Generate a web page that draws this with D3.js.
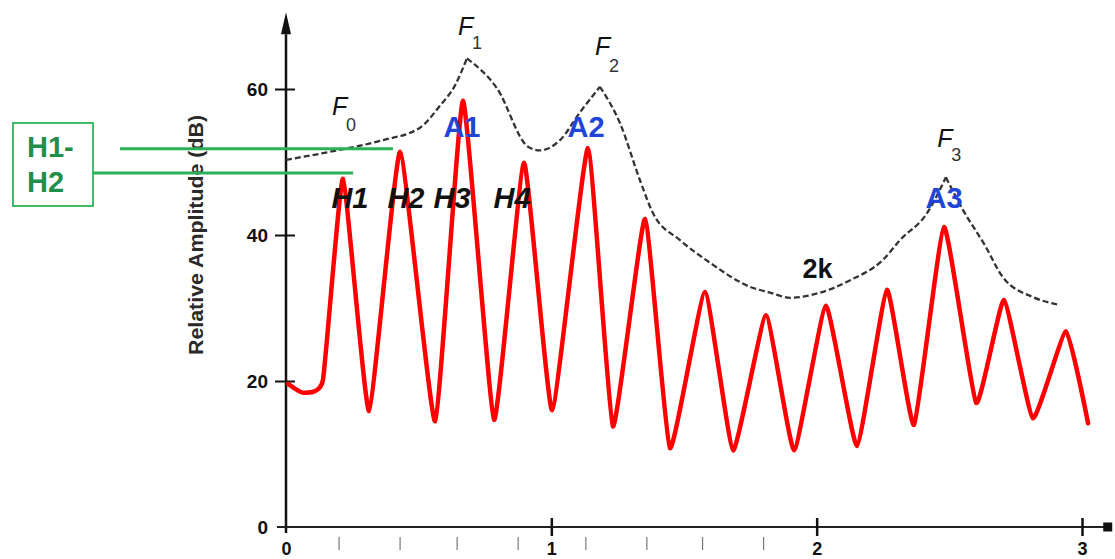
<!DOCTYPE html>
<html lang="en">
<head>
<meta charset="UTF-8">
<title>Harmonic spectrum with formant envelope</title>
<script src="https://cdn.jsdelivr.net/npm/d3@7/dist/d3.min.js"></script>
<style>
  body { margin: 0; background: #fff; }
  svg { display: block; font-family: "Liberation Sans", Arial, sans-serif; }
</style>
</head>
<body>
<div id="chart"></div>
<script>
// Red harmonic spectrum (peaks and valleys), kHz / dB
const spectrumKHz = [0.008, 0.064, 0.139, 0.215, 0.313, 0.430, 0.562, 0.667, 0.784, 0.897, 1.003, 1.138,
                     1.232, 1.353, 1.447, 1.579, 1.685, 1.809, 1.915, 2.035, 2.152, 2.265, 2.367, 2.480,
                     2.601, 2.706, 2.815, 2.940, 3.023];
const spectrumDb  = [19.6, 18.4, 20.1, 47.7, 15.9, 51.4, 14.5, 58.4, 14.7, 49.9, 16.0, 51.9,
                     13.8, 42.2, 10.8, 32.2, 10.5, 29.0, 10.5, 30.3, 11.1, 32.5, 14.0, 41.1,
                     17.0, 31.1, 14.9, 26.8, 14.2];

// Dashed formant envelope
const envelopeKHz = [0, 0.166, 0.354, 0.505, 0.580, 0.637, 0.682, 0.795, 0.912, 0.957, 1.033, 1.108,
                     1.183, 1.259, 1.334, 1.383, 1.485, 1.598, 1.749, 1.824, 1.900, 2.013, 2.126, 2.250,
                     2.314, 2.416, 2.487, 2.552, 2.634, 2.702, 2.815, 2.906];
const envelopeDb  = [50.3, 51.4, 52.9, 54.7, 57.7, 60.5, 64.2, 60.1, 52.1, 51.6, 53.0, 56.8,
                     60.3, 55.3, 47.5, 43.0, 39.3, 36.2, 32.9, 32.1, 31.4, 32.1, 33.8, 36.6,
                     39.3, 43.0, 47.9, 43.4, 38.6, 34.2, 31.5, 30.5];
const envelopeCusps = [6, 12, 26]; // F1, F2, F3 points

const xTicks = [0, 1, 2, 3];
const yTicks = [0, 20, 40, 60];
const minorTicksKHz = [0.2, 0.43, 0.645, 0.875, 1.13, 1.36, 1.57, 1.8];

const harmonicLabels = ["H1", "H2", "H3", "H4"];
const amplitudeLabels = ["A1", "A2", "A3"];
const formantSubs = ["0", "1", "2", "3"];
const h1h2LevelsDb = [51.8, 48.5];

// Set the dimensions and margins of the graph
const margin = {top: 89, right: 33, bottom: 32, left: 286},
    width = 796,
    height = 438;

const svg = d3.select("#chart")
  .append("svg")
    .attr("width", 1115)
    .attr("height", 559);

const g = svg.append("g")
    .attr("transform", `translate(${margin.left},${margin.top})`);

const x = d3.scaleLinear().domain([0, 3]).range([0, width]);
const y = d3.scaleLinear().domain([0, 60]).range([height, 0]);

// Axes lines with arrow heads
g.append("line")
  .attr("x1", 0).attr("x2", 0)
  .attr("y1", height + 6).attr("y2", y(67.5))
  .attr("stroke", "#111").attr("stroke-width", 2.5);
g.append("path")
  .attr("d", `M-5,${y(67.5)} L0,${y(70.5)} L5,${y(67.5)} Z`)
  .attr("fill", "#111");
g.append("line")
  .attr("x1", -9).attr("x2", x(3.09))
  .attr("y1", height).attr("y2", height)
  .attr("stroke", "#222").attr("stroke-width", 2);
g.append("rect")
  .attr("x", x(3.08)).attr("y", height - 4.5)
  .attr("width", 9).attr("height", 9)
  .attr("fill", "#111");

// Y axis
const yAxis = g.append("g")
  .call(d3.axisLeft(y).tickValues(yTicks).tickSize(0).tickPadding(18));
yAxis.select(".domain").remove();
yAxis.selectAll(".tick line")
  .filter(d => d !== 0)
  .attr("x1", -11).attr("x2", 9)
  .attr("stroke", "#111").attr("stroke-width", 2);
yAxis.selectAll("text")
  .attr("font-family", "'Liberation Sans', Arial, sans-serif")
  .attr("font-size", 19).attr("font-weight", "bold").attr("fill", "#111");

// X axis
const xAxis = g.append("g")
  .attr("transform", `translate(0,${height})`)
  .call(d3.axisBottom(x).tickValues(xTicks).tickSize(0).tickFormat(d3.format("d")));
xAxis.select(".domain").remove();
xAxis.selectAll(".tick line")
  .filter(d => d !== 0)
  .attr("y1", -9).attr("y2", 9)
  .attr("stroke", "#111").attr("stroke-width", 2.5);
xAxis.selectAll("text")
  .attr("y", 15)
  .attr("font-family", "'Liberation Sans', Arial, sans-serif")
  .attr("font-size", 18).attr("font-weight", "bold").attr("fill", "#111");

// small marks under the axis
g.selectAll(".minor")
  .data(minorTicksKHz)
  .join("line")
    .attr("class", "minor")
    .attr("x1", d => x(d)).attr("x2", d => x(d))
    .attr("y1", height + 10).attr("y2", height + 23)
    .attr("stroke", "#777").attr("stroke-width", 1.2);

// Y axis title
g.append("text")
  .attr("transform", `translate(-90,${y(40)}) rotate(-90)`)
  .attr("text-anchor", "middle")
  .attr("dy", "0.35em")
  .attr("font-size", 20).attr("font-weight", "bold").attr("fill", "#2a2a2a")
  .attr("textLength", 240).attr("lengthAdjust", "spacingAndGlyphs")
  .text("Relative Amplitude (dB)");

// Envelope, drawn in pieces so the formant peaks stay pointed
const envelope = d3.zip(envelopeKHz, envelopeDb);
const cuts = [0, ...envelopeCusps, envelope.length - 1];
const pieces = d3.pairs(cuts).map(([a, b]) => envelope.slice(a, b + 1));
const envLine = d3.line().x(d => x(d[0])).y(d => y(d[1])).curve(d3.curveMonotoneX);
g.selectAll(".env")
  .data(pieces)
  .join("path")
    .attr("class", "env")
    .attr("fill", "none")
    .attr("stroke", "#333")
    .attr("stroke-width", 2.3)
    .attr("stroke-dasharray", "6,3")
    .attr("d", envLine);

// Spectrum
const spectrum = d3.zip(spectrumKHz, spectrumDb);
g.append("path")
  .datum(spectrum)
  .attr("fill", "none")
  .attr("stroke", "#ff0000")
  .attr("stroke-width", 4.5)
  .attr("stroke-linejoin", "round")
  .attr("stroke-linecap", "round")
  .attr("d", d3.line().x(d => x(d[0])).y(d => y(d[1])).curve(d3.curveCardinal.tension(0.58)));

// H1-H2 box and lines
svg.append("rect")
  .attr("x", 13).attr("y", 123).attr("width", 80).attr("height", 83)
  .attr("fill", "#fff").attr("stroke", "#2db35a").attr("stroke-width", 1.8);
svg.append("text")
  .attr("x", 27).attr("y", 157)
  .attr("font-size", 29).attr("font-weight", "bold").attr("fill", "#1f8f4a")
  .text("H1-");
svg.append("text")
  .attr("x", 27).attr("y", 192)
  .attr("font-size", 29).attr("font-weight", "bold").attr("fill", "#1f8f4a")
  .text("H2");
const h1h2Start = [120, 93];
const h1h2EndKHz = [0.403, 0.253];
g.selectAll(".h1h2")
  .data(h1h2LevelsDb)
  .join("line")
    .attr("class", "h1h2")
    .attr("x1", (d, i) => h1h2Start[i] - margin.left)
    .attr("x2", (d, i) => x(h1h2EndKHz[i]))
    .attr("y1", d => y(d)).attr("y2", d => y(d))
    .attr("stroke", "#2bb058").attr("stroke-width", 3);

// Harmonic labels
const hPosKHz = [0.241, 0.452, 0.626, 0.852];
g.selectAll(".hlab")
  .data(harmonicLabels)
  .join("text")
    .attr("class", "hlab")
    .attr("x", (d, i) => x(hPosKHz[i]))
    .attr("y", y(43.7))
    .attr("text-anchor", "middle")
    .attr("font-size", 29).attr("font-weight", "bold").attr("font-style", "italic")
    .attr("fill", "#111")
    .text(d => d);

// Amplitude labels
const aPos = [[0.663, 53.4], [1.131, 53.4], [2.48, 43.7]];
g.selectAll(".alab")
  .data(amplitudeLabels)
  .join("text")
    .attr("class", "alab")
    .attr("x", (d, i) => x(aPos[i][0]))
    .attr("y", (d, i) => y(aPos[i][1]))
    .attr("text-anchor", "middle")
    .attr("font-size", 29).attr("font-weight", "bold")
    .attr("fill", "#1f45d8")
    .text(d => d);

// Formant labels F0..F3
const fPos = [[0.173, 56.4, 14, 16], [0.648, 67.4, 14, 14], [1.165, 64.7, 14, 17], [2.454, 52.1, 14, 14]];
const fLab = g.selectAll(".flab")
  .data(formantSubs)
  .join("text")
    .attr("class", "flab")
    .attr("x", (d, i) => x(fPos[i][0]))
    .attr("y", (d, i) => y(fPos[i][1]))
    .attr("fill", "#111");
fLab.append("tspan")
  .attr("font-size", 25).attr("font-style", "italic")
  .text("F");
fLab.append("tspan")
  .attr("x", (d, i) => x(fPos[i][0]) + fPos[i][2])
  .attr("dy", (d, i) => fPos[i][3])
  .attr("font-size", 18).attr("fill", "#333")
  .text(d => d);

// 2k
g.append("text")
  .attr("x", x(2.003)).attr("y", y(34.1))
  .attr("text-anchor", "middle")
  .attr("font-size", 27).attr("font-weight", "bold").attr("fill", "#111")
  .text("2k");
</script>
</body>
</html>
